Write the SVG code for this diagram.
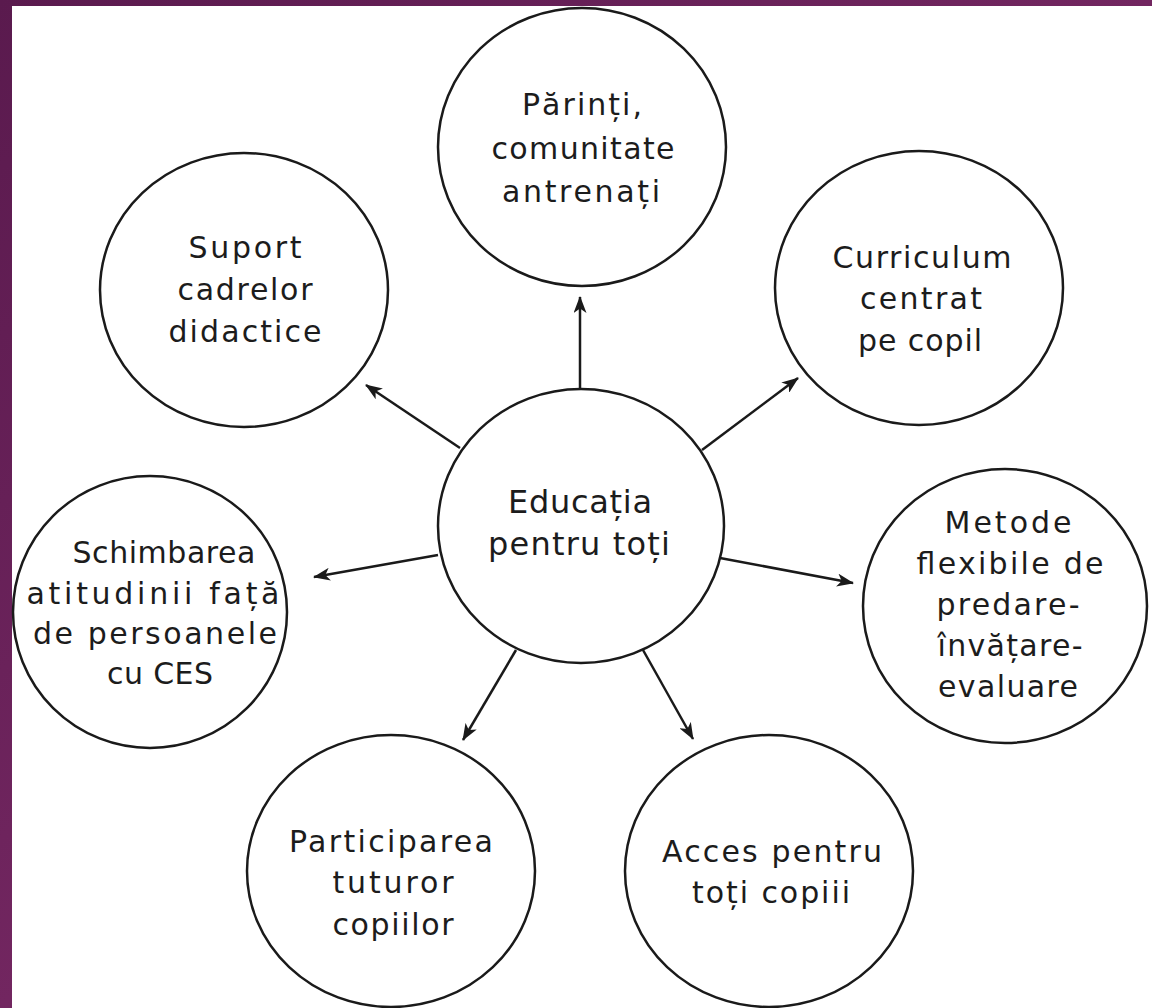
<svg xmlns="http://www.w3.org/2000/svg" width="1152" height="1008" viewBox="0 0 1152 1008">
  <defs>
    <linearGradient id="frame" x1="0" y1="0" x2="1" y2="1">
      <stop offset="0" stop-color="#5a1a4e"/>
      <stop offset="0.5" stop-color="#722660"/>
      <stop offset="1" stop-color="#5a1a4e"/>
    </linearGradient>
    <marker id="arrow" viewBox="0 0 17 13" markerUnits="userSpaceOnUse" markerWidth="17" markerHeight="13" refX="16" refY="6.5" orient="auto">
      <path d="M0,0 L17,6.5 L0,13 L4.5,6.5 z" fill="#1a1a1a"/>
    </marker>
    <style>
      .node ellipse { fill: #ffffff; stroke: #1a1a1a; stroke-width: 2.5; }
      .node text { font-family: "DejaVu Sans", "Liberation Sans", sans-serif; font-size: 30px; fill: #1c1c1c; text-anchor: middle; }
      #center text { font-size: 32px; }
      .conn line { stroke: #1a1a1a; stroke-width: 2.5; marker-end: url(#arrow); }
    </style>
  </defs>

  <rect x="0" y="0" width="1152" height="1008" fill="url(#frame)"/>
  <rect x="12" y="6" width="1140" height="1002" fill="#ffffff"/>

  <g id="connectors" class="conn">
    <line x1="580" y1="389" x2="580" y2="297"/>
    <line x1="460" y1="448" x2="366" y2="385"/>
    <line x1="702" y1="450" x2="798" y2="378"/>
    <line x1="438" y1="555" x2="314" y2="577"/>
    <line x1="720" y1="558" x2="853" y2="583"/>
    <line x1="516" y1="650" x2="463" y2="740"/>
    <line x1="643" y1="650" x2="693" y2="739"/>
  </g>

  <g id="center" class="node">
    <ellipse cx="581" cy="526" rx="143" ry="137"/>
    <text x="580" y="513" textLength="144" lengthAdjust="spacing">Educația</text>
    <text x="579" y="555" textLength="182" lengthAdjust="spacing">pentru toți</text>
  </g>

  <g id="parinti" class="node">
    <ellipse cx="582" cy="147" rx="144" ry="139"/>
    <text x="582" y="115" textLength="120" lengthAdjust="spacing">Părinți,</text>
    <text x="583" y="159" textLength="183" lengthAdjust="spacing">comunitate</text>
    <text x="581" y="202" textLength="158" lengthAdjust="spacing">antrenați</text>
  </g>

  <g id="suport" class="node">
    <ellipse cx="244" cy="290" rx="144" ry="137"/>
    <text x="245" y="258" textLength="113" lengthAdjust="spacing">Suport</text>
    <text x="245" y="300" textLength="135" lengthAdjust="spacing">cadrelor</text>
    <text x="245" y="342" textLength="153" lengthAdjust="spacing">didactice</text>
  </g>

  <g id="curriculum" class="node">
    <ellipse cx="919" cy="288" rx="144" ry="137"/>
    <text x="922" y="268" textLength="179" lengthAdjust="spacing">Curriculum</text>
    <text x="921" y="309" textLength="122" lengthAdjust="spacing">centrat</text>
    <text x="920" y="351" textLength="124" lengthAdjust="spacing">pe copil</text>
  </g>

  <g id="schimbarea" class="node">
    <ellipse cx="150" cy="612" rx="137" ry="136"/>
    <text x="164" y="563" textLength="183" lengthAdjust="spacing">Schimbarea</text>
    <text x="153" y="604" textLength="253" lengthAdjust="spacing">atitudinii față</text>
    <text x="155" y="644" textLength="244" lengthAdjust="spacing">de persoanele</text>
    <text x="160" y="684" textLength="106" lengthAdjust="spacing">cu CES</text>
  </g>

  <g id="metode" class="node">
    <ellipse cx="1005" cy="606" rx="142" ry="137"/>
    <text x="1008" y="533" textLength="127" lengthAdjust="spacing">Metode</text>
    <text x="1010" y="574" textLength="187" lengthAdjust="spacing">flexibile de</text>
    <text x="1008" y="615" textLength="143" lengthAdjust="spacing">predare-</text>
    <text x="1010" y="656" textLength="145" lengthAdjust="spacing">învățare-</text>
    <text x="1008" y="697" textLength="140" lengthAdjust="spacing">evaluare</text>
  </g>

  <g id="participarea" class="node">
    <ellipse cx="391" cy="871" rx="144" ry="136"/>
    <text x="391" y="852" textLength="204" lengthAdjust="spacing">Participarea</text>
    <text x="393" y="893" textLength="121" lengthAdjust="spacing">tuturor</text>
    <text x="393" y="935" textLength="121" lengthAdjust="spacing">copiilor</text>
  </g>

  <g id="acces" class="node">
    <ellipse cx="769" cy="871" rx="144" ry="136"/>
    <text x="772" y="862" textLength="220" lengthAdjust="spacing">Acces pentru</text>
    <text x="771" y="903" textLength="158" lengthAdjust="spacing">toți copiii</text>
  </g>
</svg>
